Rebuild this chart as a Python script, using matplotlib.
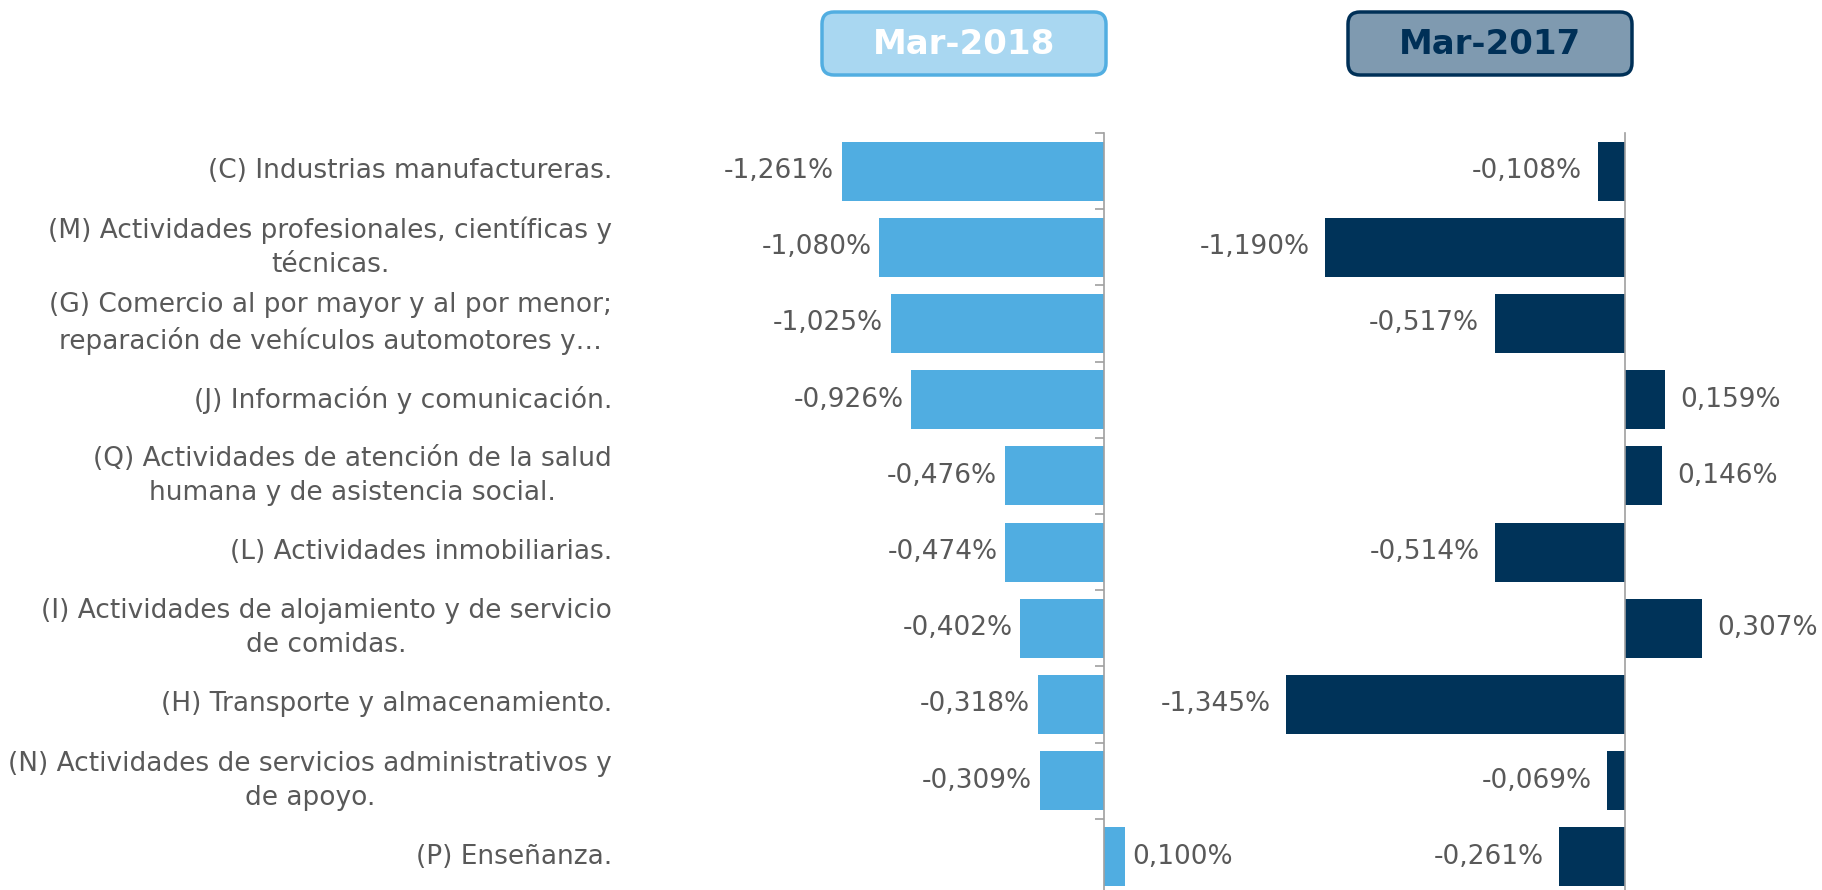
import matplotlib
matplotlib.use('Agg')
import matplotlib.pyplot as plt
from matplotlib.patches import FancyBboxPatch
from matplotlib.transforms import blended_transform_factory, IdentityTransform

categories = [
    "(C) Industrias manufactureras.",
    "(M) Actividades profesionales, científicas y\ntécnicas.",
    "(G) Comercio al por mayor y al por menor;\nreparación de vehículos automotores y…",
    "(J) Información y comunicación.",
    "(Q) Actividades de atención de la salud\nhumana y de asistencia social.",
    "(L) Actividades inmobiliarias.",
    "(I) Actividades de alojamiento y de servicio\nde comidas.",
    "(H) Transporte y almacenamiento.",
    "(N) Actividades de servicios administrativos y\nde apoyo.",
    "(P) Enseñanza.",
]
mar2018 = [-1.261, -1.080, -1.025, -0.926, -0.476, -0.474, -0.402, -0.318, -0.309, 0.100]
mar2017 = [-0.108, -1.190, -0.517, 0.159, 0.146, -0.514, 0.307, -1.345, -0.069, -0.261]
panel_titles = ["Mar-2018", "Mar-2017"]

plt.rcParams['font.family'] = ['DejaVu Sans']
TXT = '#595959'
LIGHT = '#50ADE1'
DARK = '#003359'
AXC = '#A0A0A0'

W, H = 1822, 890
fig = plt.figure(figsize=(W / 100, H / 100), dpi=100)


def fx(px):
    return px / W


def fy(py_top):
    return 1 - py_top / H


ax1 = fig.add_axes([fx(792), fy(895), fx(364), 762 / H])
ax2 = fig.add_axes([fx(1247), fy(895), fx(529), 762 / H])

n = len(categories)
ypos = list(range(n))


def fmt(v):
    return f"{v:.3f}%".replace('.', ',')


def setup(ax, vals, color, xlim, gap, ticks):
    ax.barh(ypos, vals, height=0.775, color=color)
    ax.set_xlim(*xlim)
    ax.set_ylim(n - 0.5, -0.5)
    for s in ['top', 'right', 'bottom']:
        ax.spines[s].set_visible(False)
    ax.spines['left'].set_position(('data', 0))
    ax.spines['left'].set_color(AXC)
    ax.spines['left'].set_linewidth(1.2)
    ax.set_xticks([])
    if ticks:
        ax.set_yticks([i - 0.5 for i in range(n + 1)])
        ax.tick_params(axis='y', direction='out', length=6.5, color=AXC, width=1.2,
                       labelleft=False)
    else:
        ax.set_yticks([])
    ax.patch.set_alpha(0)
    for i, v in enumerate(vals):
        off = gap if v >= 0 else -gap
        ax.annotate(fmt(v), (v, i), xytext=(off, 0), textcoords='offset points',
                    ha='left' if v >= 0 else 'right', va='center',
                    fontsize=19, color=TXT)


setup(ax1, mar2018, LIGHT, (-1.5, 0.25), 5.5, True)
setup(ax2, mar2017, DARK, (-1.5, 0.6), 11, False)

tr = blended_transform_factory(fig.transFigure, ax1.transData)
for i, lab in enumerate(categories):
    ax1.text(fx(612), i, lab, transform=tr, ha='right', va='center',
             multialignment='center', fontsize=19, color=TXT, linespacing=1.4,
             clip_on=False)

# header boxes (pixel coordinates, origin bottom-left)
boxes = [
    (820, 1108, '#A9D7F1', '#52AEE1', 'white'),
    (1346, 1634, '#7F9AB0', '#003057', '#003057'),
]
for (x0, x1, fc, ec, tc), title in zip(boxes, panel_titles):
    y0, y1 = H - 77, H - 10
    p = FancyBboxPatch((x0 + 2, y0 + 2), x1 - x0 - 4, y1 - y0 - 4,
                       boxstyle="round,pad=0,rounding_size=12",
                       transform=IdentityTransform(), facecolor=fc,
                       edgecolor=ec, linewidth=2.5)
    fig.add_artist(p)
    fig.text(fx((x0 + x1) / 2), fy(45), title, ha='center', va='center',
             fontsize=24.5, fontweight='bold', color=tc)

fig.savefig('out.png', dpi=100)
